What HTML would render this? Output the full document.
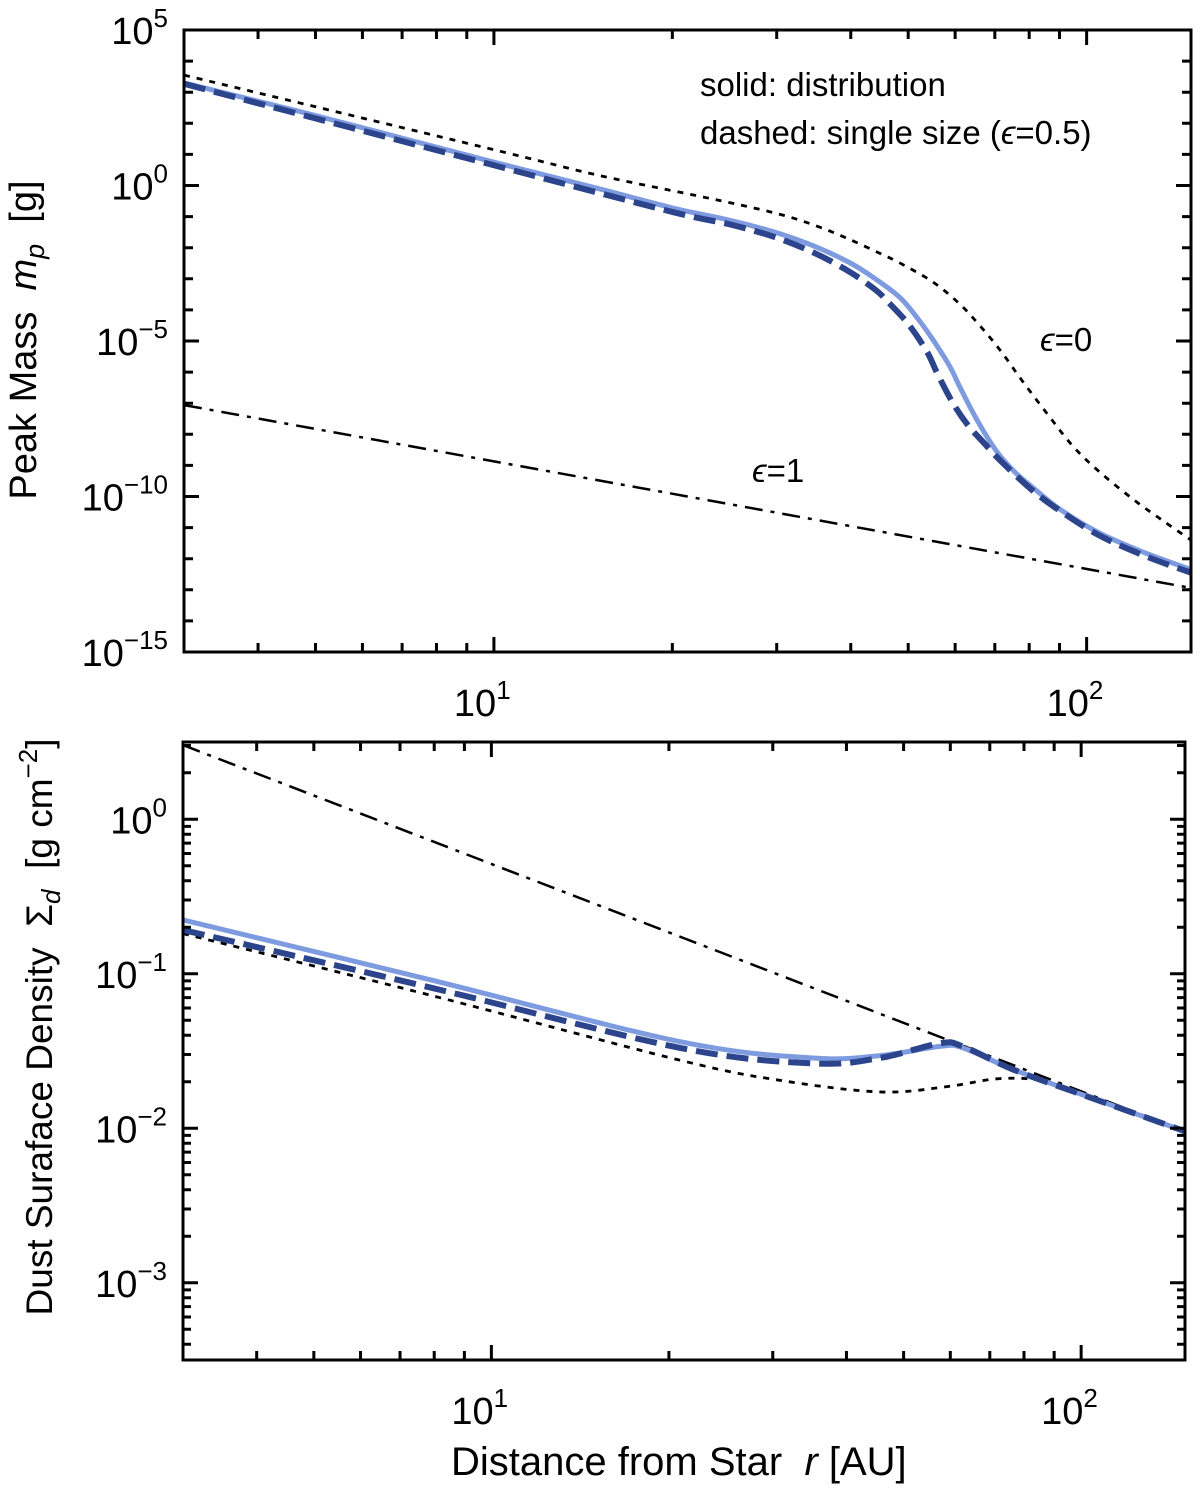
<!DOCTYPE html>
<html><head><meta charset="utf-8"><style>
html,body{margin:0;padding:0;background:#fff}
svg{display:block;font-family:"Liberation Sans",Arial,sans-serif}
</style></head><body>
<svg id="chart" width="1200" height="1488" viewBox="0 0 1200 1488" xmlns="http://www.w3.org/2000/svg">
<g id="top-panel"></g>
<g id="bot-panel"></g>
<text x="700" y="96" font-size="33">solid: distribution</text>
<text x="700" y="144" font-size="33">dashed: single size (<tspan font-style="italic">ϵ</tspan>=0.5)</text>
<text x="1040" y="351" font-size="33"><tspan font-style="italic">ϵ</tspan>=0</text>
<text x="752" y="482" font-size="33"><tspan font-style="italic">ϵ</tspan>=1</text>
<text transform="translate(36,340) rotate(-90)" text-anchor="middle" font-size="38" xml:space="preserve">Peak Mass  <tspan font-style="italic">m</tspan><tspan font-style="italic" font-size="27" dy="8">p</tspan><tspan dy="-8">  [g]</tspan></text>
<text transform="translate(52,1027) rotate(-90)" text-anchor="middle" font-size="37" xml:space="preserve">Dust Suraface Density  Σ<tspan font-style="italic" font-size="26" dy="8">d</tspan><tspan dy="-8">  [g cm</tspan><tspan font-size="26" dy="-15">−2</tspan><tspan dy="15">]</tspan></text>
<text x="451" y="1475" font-size="40" xml:space="preserve">Distance from Star  <tspan font-style="italic">r</tspan> [AU]</text>
</svg>
<script>
// ---- data (log10 values) ----
const topR_solid = [3,5,10,15,20,25,30,35,40,44,48.4,52,55,58.7,61,64.3,68,71.5,76,81,90,105,125,150];
const topM_solid = [3.30,2.25,0.75,-0.1,-0.72,-1.12,-1.52,-1.98,-2.5,-3.0,-3.6,-4.3,-4.95,-5.8,-6.45,-7.3,-8.1,-8.7,-9.25,-9.7,-10.4,-11.17,-11.8,-12.35];
const topR_dashed = [3,10,20,25,30,35,40,44,46,50,53.8,56,59.5,63,66.9,72,81,90,105,125,150];
const topM_dashed = [3.27,0.65,-0.85,-1.25,-1.68,-2.2,-2.8,-3.35,-3.7,-4.45,-5.35,-6.05,-7.0,-7.7,-8.25,-8.9,-9.8,-10.45,-11.25,-11.9,-12.45];
const topR_dotted = [3,10,15,23.2,30,35,40,45,48.4,55,61,66,71.5,78,86.6,95,105,120,135,150];
const topM_dotted = [3.55,1.15,0.33,-0.42,-0.9,-1.3,-1.75,-2.2,-2.49,-3.1,-3.8,-4.5,-5.3,-6.3,-7.44,-8.4,-9.2,-10.1,-10.8,-11.4];
const topR_dashdot = [3,150];
const topM_dashdot = [-7.06,-12.94];

const botR_solid = [3,7.9,20.9,35.1,45.6,57.6,63,76.7,100,150];
const botS_solid = [-0.652,-1.04,-1.44,-1.545,-1.53,-1.47,-1.48,-1.62,-1.78,-2.02];
const botR_dashed = [3,7.9,20.9,35.1,45.6,57.6,63,76.7,100,150];
const botS_dashed = [-0.717,-1.09,-1.48,-1.58,-1.545,-1.45,-1.47,-1.62,-1.78,-2.02];
const botR_dotted = [3,7.9,20.9,30.9,45.6,59.4,72,85,100,150];
const botS_dotted = [-0.74,-1.14,-1.56,-1.69,-1.765,-1.73,-1.68,-1.69,-1.78,-2.02];
const botR_dashdot = [3,150];
const botS_dashdot = [0.48,-2.02];

const xTickVals = [10,100];
const xTickLabels = ["1","2"];
const topYTickVals = [5,0,-5,-10,-15];
const topYTickLabels = ["5","0","−5","−10","−15"];
const botYTickVals = [0,-1,-2,-3];
const botYTickLabels = ["0","−1","−2","−3"];

const NS="http://www.w3.org/2000/svg";
function mk(tag,attrs,parent){const e=document.createElementNS(NS,tag);for(const k in attrs)e.setAttribute(k,attrs[k]);parent.appendChild(e);return e;}

function panel(g,L,R,T,B,ymax,ymin,minorPerDecade){
  const xs=r=>L+(Math.log10(r)-Math.log10(3))/(Math.log10(150)-Math.log10(3))*(R-L);
  const ys=v=>T+(ymax-v)/(ymax-ymin)*(B-T);
  return {xs,ys,L,R,T,B,ymax,ymin,g,minorPerDecade};
}
function drawAxes(P,yVals,yLabels,name){
  const g=P.g;
  const box=mk('rect',{x:P.L,y:P.T,width:P.R-P.L,height:P.B-P.T,fill:'none',stroke:'#000','stroke-width':3},g);
  
  
  let d='';
  for(let dec=0;dec<=2;dec++){for(let m=1;m<10;m++){const r=m*Math.pow(10,dec);if(r<3||r>150)continue;
    const x=P.xs(r);const len=(m===1)?15:9;
    d+=`M${x},${P.B}v${-len}M${x},${P.T}v${len}`;}}
  for(let e=Math.ceil(P.ymin)-1;e<=Math.floor(P.ymax);e++){
    if(P.minorPerDecade){
      if(e>=P.ymin){const y=P.ys(e);d+=`M${P.L},${y}h15M${P.R},${y}h-15`;}
      for(let m=2;m<10;m++){const v=e+Math.log10(m);if(v>P.ymax||v<P.ymin)continue;const yy=P.ys(v);d+=`M${P.L},${yy}h8M${P.R},${yy}h-8`;}
    }else{
      if(e<P.ymin)continue;
      const y=P.ys(e);const len=yVals.includes(e)?15:9;
      d+=`M${P.L},${y}h${len}M${P.R},${y}h${-len}`;
    }
  }
  const t=mk('path',{d,stroke:'#000','stroke-width':3,fill:'none'},g);
  
  
  yVals.forEach((v,i)=>{
    const tx=mk('text',{x:P.L-16,y:P.ys(v)+14,'text-anchor':'end','font-size':38},g);
    
    
    tx.innerHTML=`10<tspan font-size="26" dy="-17">${yLabels[i]}</tspan>`;
  });
  xTickVals.forEach((v,i)=>{
    const tx=mk('text',{x:P.xs(v)-40,y:P.B+64,'font-size':38},g);
    
    
    tx.innerHTML=`10<tspan font-size="26" dy="-17">${xTickLabels[i]}</tspan>`;
  });
}
function curve(P,rs,vs,style,name){
  const pts=rs.map((r,i)=>[P.xs(r),P.ys(vs[i])]);
  let d=`M${pts[0][0]},${pts[0][1]}`;
  for(let i=0;i<pts.length-1;i++){
    const p0=pts[Math.max(0,i-1)],p1=pts[i],p2=pts[i+1],p3=pts[Math.min(pts.length-1,i+2)];
    const c1=[p1[0]+(p2[0]-p0[0])/6,p1[1]+(p2[1]-p0[1])/6];
    const c2=[p2[0]-(p3[0]-p1[0])/6,p2[1]-(p3[1]-p1[1])/6];
    d+=`C${c1[0]},${c1[1]} ${c2[0]},${c2[1]} ${p2[0]},${p2[1]}`;
  }
  const a=Object.assign({d,fill:'none','clip-path':`url(#${P.clip})`},style);
  const p=mk('path',a,P.g);
  
  
}
const svg=document.getElementById('chart');
const defs=mk('defs',{},svg);
function clip(id,P){const c=mk('clipPath',{id},defs);mk('rect',{x:P.L,y:P.T,width:P.R-P.L,height:P.B-P.T},c);P.clip=id;}

const st={
 solid:{stroke:'#7f9be0','stroke-width':5},
 dashed:{stroke:'#2b448c','stroke-width':6,'stroke-dasharray':'22 9'},
 dotted:{stroke:'#000','stroke-width':2.8,'stroke-dasharray':'6 7'},
 dashdot:{stroke:'#000','stroke-width':2.5,'stroke-dasharray':'18 8 4 8'}
};

const PT=panel(document.getElementById('top-panel'),184,1191,30,652,5,-15,false);
clip('clipTop',PT);
curve(PT,topR_dashdot,topM_dashdot,st.dashdot,'eps1-dashdot-line');
curve(PT,topR_dotted,topM_dotted,st.dotted,'eps0-dotted-line');
curve(PT,topR_solid,topM_solid,st.solid,'distribution-solid-line');
curve(PT,topR_dashed,topM_dashed,st.dashed,'single-size-dashed-line');
drawAxes(PT,topYTickVals,topYTickLabels,'top');

const PB=panel(document.getElementById('bot-panel'),183,1185,742,1360,0.5,-3.5,true);
clip('clipBot',PB);
curve(PB,botR_dashdot,botS_dashdot,st.dashdot,'bottom-dashdot-line');
curve(PB,botR_dotted,botS_dotted,st.dotted,'bottom-dotted-line');
curve(PB,botR_solid,botS_solid,st.solid,'bottom-solid-line');
curve(PB,botR_dashed,botS_dashed,st.dashed,'bottom-dashed-line');
drawAxes(PB,botYTickVals,botYTickLabels,'bottom');
</script>
</body></html>
